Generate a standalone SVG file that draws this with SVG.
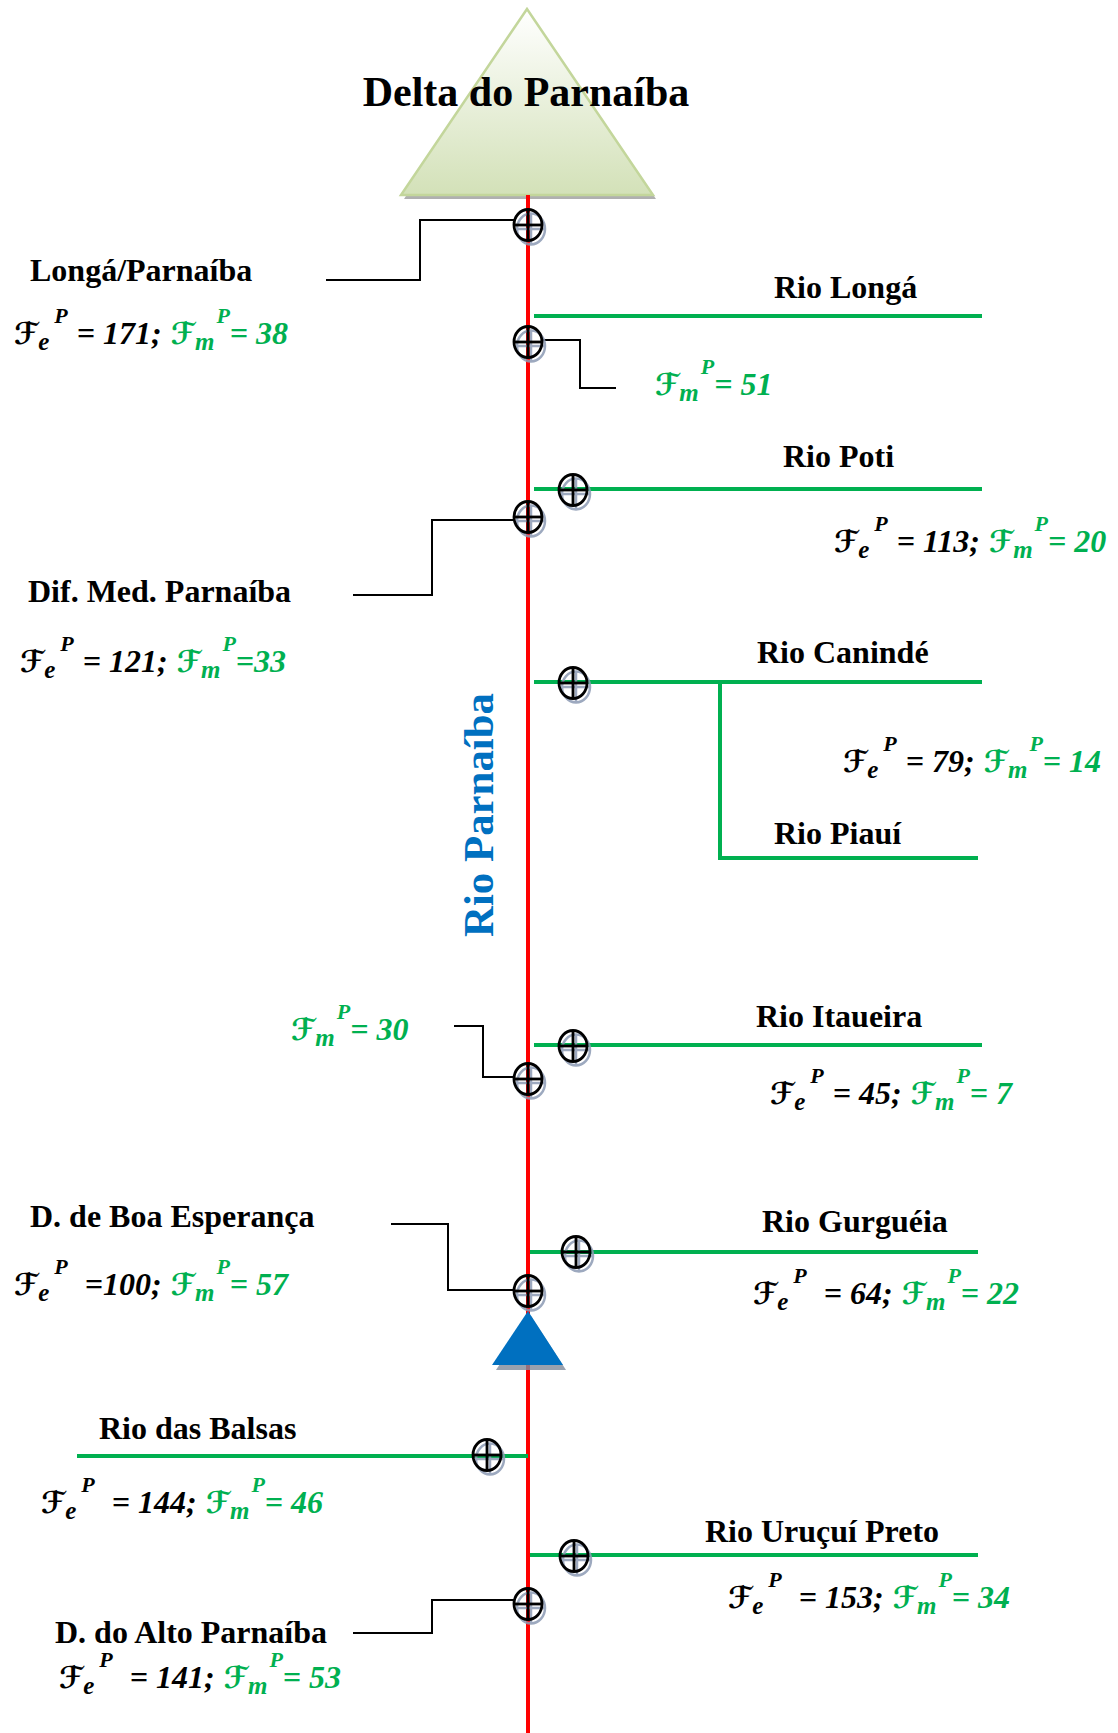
<svg xmlns="http://www.w3.org/2000/svg" xmlns:xlink="http://www.w3.org/1999/xlink" width="1118" height="1733" viewBox="0 0 1118 1733">
  <defs>
    <linearGradient id="deltaFill" x1="0" y1="0" x2="0" y2="1">
      <stop offset="0" stop-color="#ffffff"/>
      <stop offset="1" stop-color="#d3e1b8"/>
    </linearGradient>
    <!-- gauge station: circle with cross, plus a soft grey shadow -->
    <g id="gauge">
      <g stroke="#8d9bb4" stroke-width="2.5" fill="none" opacity="0.85" transform="translate(3,4)">
        <ellipse cx="0" cy="0" rx="14" ry="15.5"/>
        <line x1="-14" y1="0" x2="14" y2="0"/>
        <line x1="0" y1="-15.5" x2="0" y2="15.5"/>
      </g>
      <g stroke="#000" stroke-width="2.8" fill="none">
        <ellipse cx="0" cy="0" rx="14" ry="15.5"/>
        <line x1="-14" y1="0" x2="14" y2="0"/>
        <line x1="0" y1="-15.5" x2="0" y2="15.5"/>
      </g>
    </g>
  </defs>
  <style>
    .lbl { font-family: "Liberation Serif", "Times New Roman", serif; font-weight: bold; font-size: 32px; fill: #000; }
    .title { font-size: 42px; }
    .main { font-size: 42px; fill: #0070c0; }
    .fx { font-family: "Liberation Serif", "Times New Roman", serif; font-weight: bold; font-style: italic; font-size: 32px; fill: #000; }
    .F { font-family: "DejaVu Serif", "DejaVu Sans", serif; font-style: normal; font-size: 30px; }
    .sb { font-size: 25px; }
    .sp { font-size: 22px; }
    .g { fill: #00b050; }
    .river { stroke: #ff0000; stroke-width: 4; fill: none; }
    .trib { stroke: #00b050; stroke-width: 4; fill: none; }
    .lead { stroke: #000; stroke-width: 2; fill: none; }
  </style>

  <rect width="1118" height="1733" fill="#ffffff"/>

  <!-- delta at the river mouth -->
  <g id="delta">
    <polygon points="527,12 404,199 656,199" fill="#8f8f8f" opacity="0.7"/>
    <polygon points="527,9 401,195 653,195" fill="url(#deltaFill)" stroke="#c3d69b" stroke-width="2.5"/>
    <text class="lbl title" x="526" y="106" text-anchor="middle">Delta do Parnaíba</text>
  </g>

  <!-- river lines and leader lines -->
  <g id="connectors">
    <line class="river" x1="528" y1="195" x2="528" y2="1733"/>
    <!-- tributaries -->
    <line class="trib" x1="534" y1="316" x2="982" y2="316"/>
    <line class="trib" x1="534" y1="489" x2="982" y2="489"/>
    <polyline class="trib" points="534,682 982,682"/>
    <polyline class="trib" points="720,682 720,858 978,858"/>
    <line class="trib" x1="534" y1="1045" x2="982" y2="1045"/>
    <line class="trib" x1="530" y1="1252" x2="978" y2="1252"/>
    <line class="trib" x1="77" y1="1456" x2="528" y2="1456"/>
    <line class="trib" x1="530" y1="1555" x2="978" y2="1555"/>
    <!-- leaders from stations to their labels -->
    <polyline class="lead" points="514,220 420,220 420,280 326,280"/>
    <polyline class="lead" points="542,340 580,340 580,388 616,388"/>
    <polyline class="lead" points="514,520 432,520 432,595 353,595"/>
    <polyline class="lead" points="454,1026 483,1026 483,1077 514,1077"/>
    <polyline class="lead" points="391,1224 448,1224 448,1290 514,1290"/>
    <polyline class="lead" points="353,1633 432,1633 432,1600 514,1600"/>
  </g>

  <!-- main-stem label -->
  <g id="rio-parnaiba">
    <text class="lbl main" transform="translate(493,937) rotate(-90)" textLength="244" lengthAdjust="spacingAndGlyphs">Rio Parnaíba</text>
  </g>

  <g id="st-longa-parnaiba">
    <use href="#gauge" x="528" y="225"/>
    <text class="lbl" x="30" y="281">Longá/Parnaíba</text>
    <text class="fx" x="14" y="344"><tspan class="F">ℱ</tspan><tspan class="sb" dy="6">e</tspan><tspan class="sp" dx="5" dy="-27">P</tspan><tspan dx="9" dy="21">= 171;</tspan><tspan class="F g" dx="9">ℱ</tspan><tspan class="sb g" dy="6">m</tspan><tspan class="sp g" dx="2" dy="-27">P</tspan><tspan class="g" dy="21">= 38</tspan></text>
  </g>

  <g id="rio-longa">
    <use href="#gauge" x="528" y="342"/>
    <text class="lbl" x="774" y="298">Rio Longá</text>
    <text class="fx" x="655" y="395"><tspan class="F g">ℱ</tspan><tspan class="sb g" dy="6">m</tspan><tspan class="sp g" dx="2" dy="-27">P</tspan><tspan class="g" dy="21">= 51</tspan></text>
  </g>

  <g id="rio-poti">
    <use href="#gauge" x="573" y="490"/>
    <text class="lbl" x="783" y="467">Rio Poti</text>
    <text class="fx" x="834" y="552"><tspan class="F">ℱ</tspan><tspan class="sb" dy="6">e</tspan><tspan class="sp" dx="5" dy="-27">P</tspan><tspan dx="9" dy="21">= 113;</tspan><tspan class="F g" dx="9">ℱ</tspan><tspan class="sb g" dy="6">m</tspan><tspan class="sp g" dx="2" dy="-27">P</tspan><tspan class="g" dy="21">= 20</tspan></text>
  </g>

  <g id="st-dif-med-parnaiba">
    <use href="#gauge" x="528" y="517"/>
    <text class="lbl" x="28" y="602">Dif. Med. Parnaíba</text>
    <text class="fx" x="20" y="672"><tspan class="F">ℱ</tspan><tspan class="sb" dy="6">e</tspan><tspan class="sp" dx="5" dy="-27">P</tspan><tspan dx="9" dy="21">= 121;</tspan><tspan class="F g" dx="9">ℱ</tspan><tspan class="sb g" dy="6">m</tspan><tspan class="sp g" dx="2" dy="-27">P</tspan><tspan class="g" dy="21">=33</tspan></text>
  </g>

  <g id="rio-caninde">
    <use href="#gauge" x="573" y="683"/>
    <text class="lbl" x="757" y="663">Rio Canindé</text>
    <text class="fx" x="843" y="772"><tspan class="F">ℱ</tspan><tspan class="sb" dy="6">e</tspan><tspan class="sp" dx="5" dy="-27">P</tspan><tspan dx="9" dy="21">= 79;</tspan><tspan class="F g" dx="9">ℱ</tspan><tspan class="sb g" dy="6">m</tspan><tspan class="sp g" dx="2" dy="-27">P</tspan><tspan class="g" dy="21">= 14</tspan></text>
  </g>

  <g id="rio-piaui">
    <text class="lbl" x="774" y="844">Rio Piauí</text>
  </g>

  <g id="st-30">
    <use href="#gauge" x="528" y="1079"/>
    <text class="fx" x="291" y="1040"><tspan class="F g">ℱ</tspan><tspan class="sb g" dy="6">m</tspan><tspan class="sp g" dx="2" dy="-27">P</tspan><tspan class="g" dy="21">= 30</tspan></text>
  </g>

  <g id="rio-itaueira">
    <use href="#gauge" x="573" y="1046"/>
    <text class="lbl" x="756" y="1027">Rio Itaueira</text>
    <text class="fx" x="770" y="1104"><tspan class="F">ℱ</tspan><tspan class="sb" dy="6">e</tspan><tspan class="sp" dx="5" dy="-27">P</tspan><tspan dx="9" dy="21">= 45;</tspan><tspan class="F g" dx="9">ℱ</tspan><tspan class="sb g" dy="6">m</tspan><tspan class="sp g" dx="2" dy="-27">P</tspan><tspan class="g" dy="21">= 7</tspan></text>
  </g>

  <g id="st-boa-esperanca">
    <use href="#gauge" x="528" y="1291"/>
    <polygon points="531,1316 496,1370 566,1370" fill="#7f8a9a" opacity="0.8"/>
    <polygon points="528,1311 492,1365 563,1365" fill="#0070c0"/>
    <text class="lbl" x="30" y="1227">D. de Boa Esperança</text>
    <text class="fx" x="14" y="1295"><tspan class="F">ℱ</tspan><tspan class="sb" dy="6">e</tspan><tspan class="sp" dx="5" dy="-27">P</tspan><tspan dx="17" dy="21">=100;</tspan><tspan class="F g" dx="9">ℱ</tspan><tspan class="sb g" dy="6">m</tspan><tspan class="sp g" dx="2" dy="-27">P</tspan><tspan class="g" dy="21">= 57</tspan></text>
  </g>

  <g id="rio-gurgueia">
    <use href="#gauge" x="576" y="1252"/>
    <text class="lbl" x="762" y="1232">Rio Gurguéia</text>
    <text class="fx" x="753" y="1304"><tspan class="F">ℱ</tspan><tspan class="sb" dy="6">e</tspan><tspan class="sp" dx="5" dy="-27">P</tspan><tspan dx="17" dy="21">= 64;</tspan><tspan class="F g" dx="9">ℱ</tspan><tspan class="sb g" dy="6">m</tspan><tspan class="sp g" dx="2" dy="-27">P</tspan><tspan class="g" dy="21">= 22</tspan></text>
  </g>

  <g id="rio-das-balsas">
    <use href="#gauge" x="487" y="1455"/>
    <text class="lbl" x="99" y="1439">Rio das Balsas</text>
    <text class="fx" x="41" y="1513"><tspan class="F">ℱ</tspan><tspan class="sb" dy="6">e</tspan><tspan class="sp" dx="5" dy="-27">P</tspan><tspan dx="17" dy="21">= 144;</tspan><tspan class="F g" dx="9">ℱ</tspan><tspan class="sb g" dy="6">m</tspan><tspan class="sp g" dx="2" dy="-27">P</tspan><tspan class="g" dy="21">= 46</tspan></text>
  </g>

  <g id="rio-urucui-preto">
    <use href="#gauge" x="574" y="1556"/>
    <text class="lbl" x="705" y="1542">Rio Uruçuí Preto</text>
    <text class="fx" x="728" y="1608"><tspan class="F">ℱ</tspan><tspan class="sb" dy="6">e</tspan><tspan class="sp" dx="5" dy="-27">P</tspan><tspan dx="17" dy="21">= 153;</tspan><tspan class="F g" dx="9">ℱ</tspan><tspan class="sb g" dy="6">m</tspan><tspan class="sp g" dx="2" dy="-27">P</tspan><tspan class="g" dy="21">= 34</tspan></text>
  </g>

  <g id="st-alto-parnaiba">
    <use href="#gauge" x="528" y="1604"/>
    <text class="lbl" x="55" y="1643">D. do Alto Parnaíba</text>
    <text class="fx" x="59" y="1688"><tspan class="F">ℱ</tspan><tspan class="sb" dy="6">e</tspan><tspan class="sp" dx="5" dy="-27">P</tspan><tspan dx="17" dy="21">= 141;</tspan><tspan class="F g" dx="9">ℱ</tspan><tspan class="sb g" dy="6">m</tspan><tspan class="sp g" dx="2" dy="-27">P</tspan><tspan class="g" dy="21">= 53</tspan></text>
  </g>
</svg>
